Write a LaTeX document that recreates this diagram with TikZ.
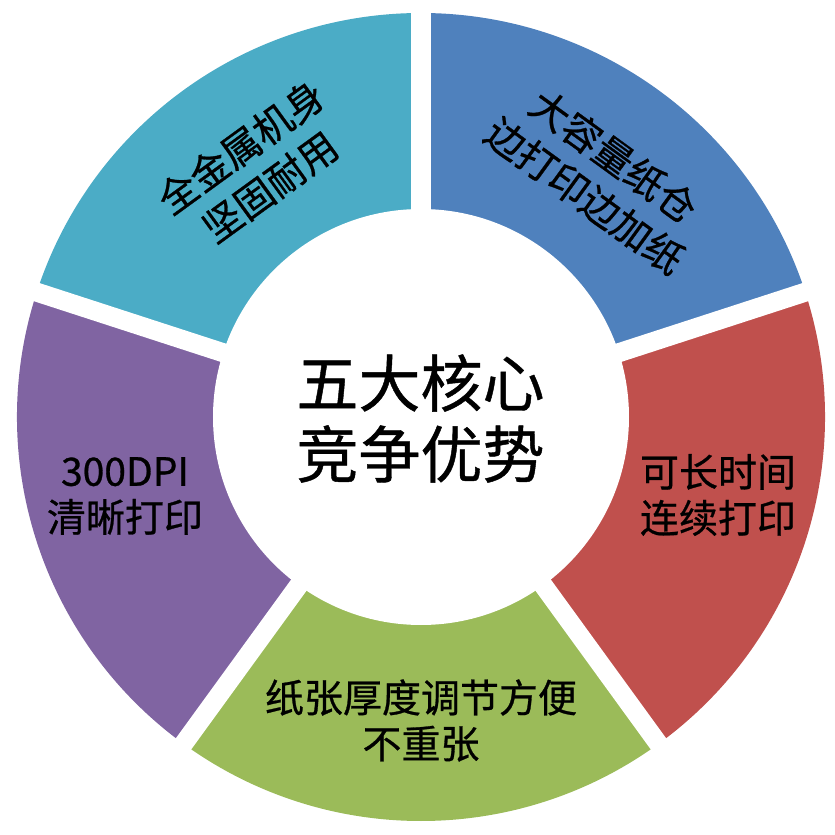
\documentclass[tikz,border=0pt]{standalone}
\usepackage{fontspec}
\setmainfont{Noto Sans CJK SC}[FakeBold=0.7]
\definecolor{segteal}{HTML}{4BACC6}
\definecolor{segblue}{HTML}{4F81BD}
\definecolor{segred}{HTML}{C0504D}
\definecolor{seggreen}{HTML}{9BBB59}
\definecolor{segpurple}{HTML}{8064A2}
\tikzset{
  segtext/.style={align=center, inner sep=0pt, text=black, font=\fontsize{39}{46}\selectfont},
  rottext/.style={align=center, inner sep=0pt, text=black, font=\fontsize{39}{49}\selectfont},
  bigtext/.style={align=center, inner sep=0pt, text=black, font=\fontsize{62}{71}\selectfont},
  gapline/.style={white, line width=19pt}
}
\begin{document}
\begin{tikzpicture}[x=1pt,y=1pt]
\useasboundingbox (-421,-418) rectangle (414,417);
\fill[white] (-421,-418) rectangle (414,417);
\def\Ro{404}
\def\Ri{208}
% segments
\fill[segblue]   (0,0) -- (90:\Ro)  arc[start angle=90,  end angle=18,   radius=\Ro] -- cycle;
\fill[segred]    (0,0) -- (18:\Ro)  arc[start angle=18,  end angle=-54,  radius=\Ro] -- cycle;
\fill[seggreen]  (0,0) -- (-54:\Ro) arc[start angle=-54, end angle=-126, radius=\Ro] -- cycle;
\fill[segpurple] (0,0) -- (-126:\Ro) arc[start angle=-126, end angle=-198, radius=\Ro] -- cycle;
\fill[segteal]   (0,0) -- (162:\Ro) arc[start angle=162, end angle=90,   radius=\Ro] -- cycle;
% gaps
\coordinate (o) at (0,0);
\foreach \a in {90,18,-54,-126,162} {
  \coordinate (g\a) at (\a:440);
  \draw[gapline] (o) -- (g\a);
}
% inner circle
\fill[white] (o) circle[radius=\Ri];
% texts
\node[bigtext] (core) at (-0.5,-1.5) {五大核心\\竞争优势};
\node[rottext, rotate=-36] (tblue) at (53.5:300) {大容量纸仓\\边打印边加纸};
\node[segtext] (tred) at (297,-78) {可长时间\\连续打印};
\node[segtext] (tgreen) at (0,-303.5) {纸张厚度调节方便\\不重张};
\node[segtext] (tpurple) at (-296,-79) {300DPI\\清晰打印};
\node[rottext, rotate=36] (tteal) at (123.5:300) {全金属机身\\坚固耐用};
\end{tikzpicture}
\end{document}
